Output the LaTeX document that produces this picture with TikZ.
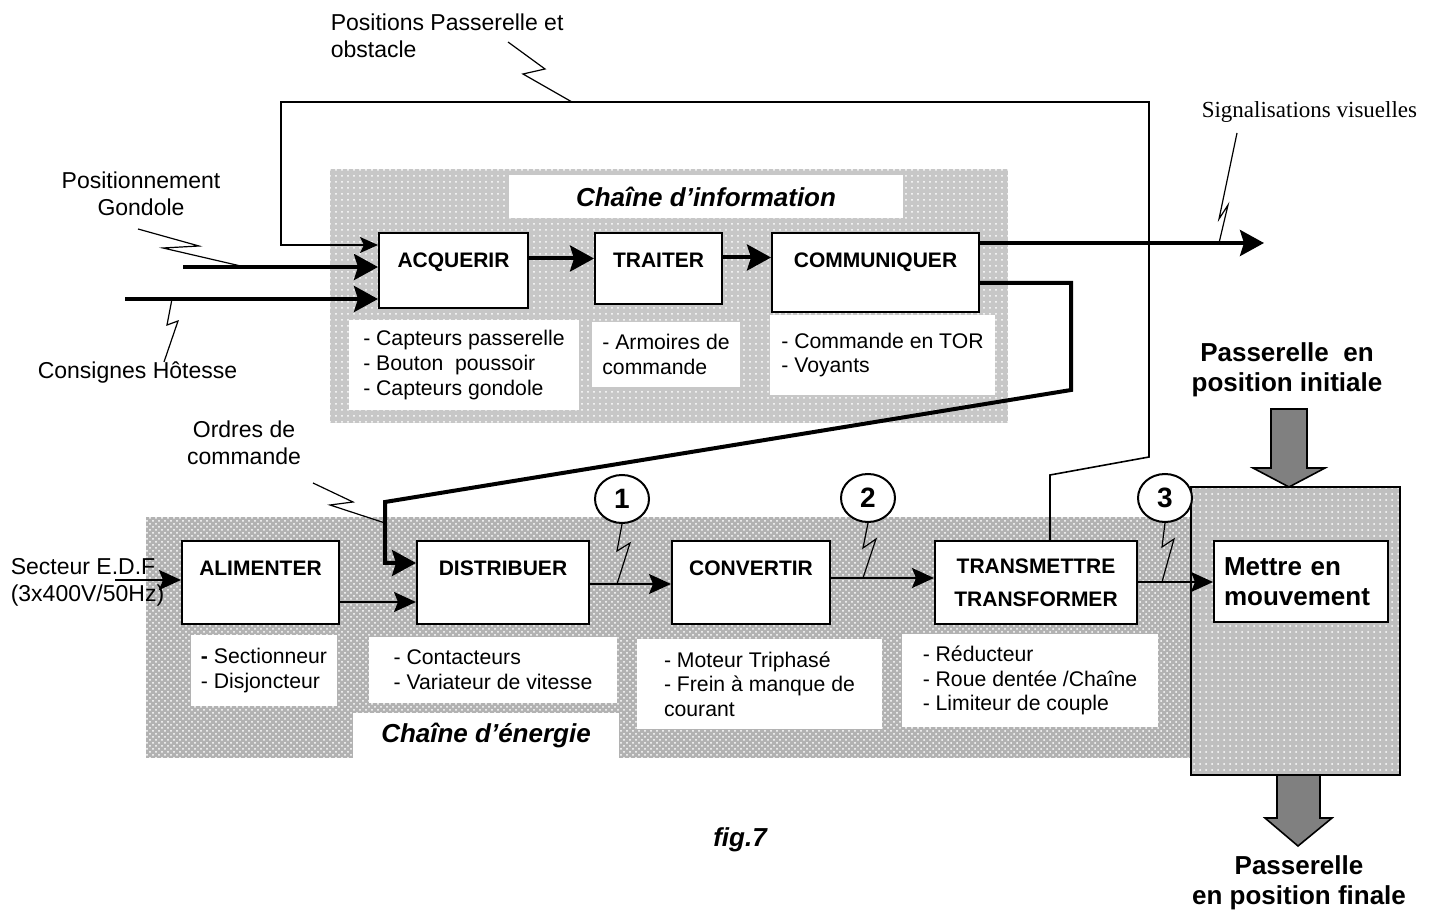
\documentclass[tikz,border=0pt]{standalone}
\usepackage{fontspec}
\setmainfont{Liberation Sans}
\newfontfamily\timesfont{Liberation Serif}
\usetikzlibrary{arrows.meta,shapes.geometric,patterns}

\begin{document}
\begin{tikzpicture}[x=0.5pt, y=-0.5pt, thick, every node/.style={inner sep=0pt}]

\tikzstyle{block} = [rectangle, draw, line width=1pt, fill=white, text height=7.5pt,
    font=\bfseries\fontsize{10.5}{12.6}\selectfont, minimum height=41.5pt, text depth=14.5pt]
\tikzstyle{desc} = [rectangle, fill=white, align=left, font=\fontsize{10.6}{12.3}\selectfont]
\tikzstyle{lbl} = [align=center, font=\fontsize{11.5}{13.5}\selectfont]
\tikzstyle{title} = [rectangle, fill=white, font=\bfseries\itshape\fontsize{13}{15}\selectfont]
\tikzstyle{num} = [ellipse, draw, line width=1pt, fill=white, minimum width=27pt,
    minimum height=24pt, font=\bfseries\fontsize{14}{14}\selectfont]
\tikzstyle{line} = [draw, line width=1pt, -{Stealth[length=11pt,width=10pt,inset=2pt]}]
\tikzstyle{fat} = [draw, line width=2pt, -{Stealth[length=12pt,width=13pt,inset=2pt]}]
\tikzstyle{wire} = [draw, line width=0.8pt]
\tikzstyle{zig} = [draw, line width=0.6pt]
\tikzstyle{infozone} = [preaction={fill=black!22}, pattern=dots, pattern color=white]
\tikzstyle{nrjzone} = [preaction={fill=black!30}, pattern=crosshatch dots, pattern color=white]
\tikzstyle{mvtzone} = [rectangle, draw, line width=1pt, preaction={fill=black!25}, pattern=dots, pattern color=white]
\tikzstyle{bigarrow} = [draw, line width=0.8pt, fill=black!50]

    \useasboundingbox (0,0) rectangle (1441,914);

    % Zones
    \path [infozone] (330,169) rectangle (1008,423);
    \path [nrjzone] (146,517) rectangle (1191,758);
    \node [mvtzone, minimum width=104.5pt, minimum height=144pt] (zone) at (1295.5,631) {};

    % Chaine d'information
    \node [title, minimum width=197pt, minimum height=21.5pt] (tinfo) at (706,196.5) {Chaîne d’information};
    \node [block, minimum width=74.5pt, minimum height=37.5pt, text depth=10pt] (acq) at (453.5,270.5) {ACQUERIR};
    \node [block, minimum width=63.5pt, minimum height=35.5pt, text depth=8pt] (trait) at (658.5,268.5) {TRAITER};
    \node [block, minimum width=103.5pt, minimum height=39.5pt, text depth=12pt] (comm) at (875.5,272.5) {COMMUNIQUER};
    \node [desc, minimum width=115pt, minimum height=45pt] (dacq) at (464,365)
        {- Capteurs passerelle\\- Bouton\ \ poussoir\\- Capteurs gondole};
    \node [desc, minimum width=74pt, minimum height=32.5pt] (dtrait) at (666,354.5)
        {- Armoires de\\commande};
    \node [desc, minimum width=112.5pt, minimum height=40pt] (dcomm) at (882.5,355)
        {- Commande en TOR\\- Voyants};

    % Chaine d'energie
    \node [title, minimum width=133pt, minimum height=22.5pt] (tnrj) at (486,735.5) {Chaîne d’énergie};
    \node [block, minimum width=78.5pt] (alim) at (260.5,582.5) {ALIMENTER};
    \node [block, minimum width=86pt] (dist) at (503,582.5) {DISTRIBUER};
    \node [block, minimum width=79pt] (conv) at (751,582.5) {CONVERTIR};
    \node [block, minimum width=101pt, text height=, text depth=, align=center] (trans) at (1036,582.5)
        {TRANSMETTRE\\[4pt]TRANSFORMER};
    \node [desc, minimum width=73pt, minimum height=35.5pt] (dalim) at (264,670.5)
        {\textbf{-} Sectionneur\\- Disjoncteur};
    \node [desc, minimum width=124pt, minimum height=33pt] (ddist) at (493,670)
        {- Contacteurs\\- Variateur de vitesse};
    \node [desc, minimum width=122.5pt, minimum height=45pt] (dconv) at (759.5,684)
        {- Moteur Triphasé\\- Frein à manque de\\courant};
    \node [desc, minimum width=128pt, minimum height=46.5pt] (dtrans) at (1030,680.5)
        {- Réducteur\\- Roue dentée /Chaîne\\- Limiteur de couple};
    \node [block, minimum width=87pt, minimum height=40.5pt, text height=, text depth=, align=left, inner xsep=5pt,
        text width=77pt, font=\bfseries\fontsize{13}{15}\selectfont] (mvt) at (1301,581.5) {Mettre en\\mouvement};

    \node [num] (n1) at (622,499) {1};
    \node [num] (n2) at (868,498) {2};
    \node [num] (n3) at (1165,498) {3};

    % Labels
    \node [lbl, align=left, anchor=west] (posit) at (330,36) {Positions Passerelle et\\obstacle};
    \node [lbl] (gondole) at (141,194) {Positionnement\\Gondole};
    \node [lbl] (hotesse) at (137.5,373) {Consignes Hôtesse};
    \node [lbl] (ordres) at (244,443) {Ordres de\\commande};
    \node [lbl, align=left, anchor=west] (secteur) at (10,582) {Secteur E.D.F\\(3x400V/50Hz)};
    \node [anchor=west, font=\timesfont\fontsize{11.5}{13}\selectfont] (signal) at (1201,112) {Signalisations visuelles};
    \node [align=center, font=\bfseries\fontsize{13}{15}\selectfont] (pinit) at (1287,370) {Passerelle\ \ en\\position initiale};
    \node [align=center, font=\bfseries\fontsize{13}{15}\selectfont] (pfin) at (1299,883) {Passerelle\\en position finale};
    \node [font=\bfseries\itshape\fontsize{13}{15}\selectfont] (fig) at (740,840) {fig.7};

    % Big arrows
    \draw [bigarrow] (1289,487) -- ++(36,-19) -- ++(-18,0) -- ++(0,-59) -- ++(-36,0) -- ++(0,59) -- ++(-18,0) -- cycle;
    \draw [bigarrow] (1298,846) -- ++(34,-28) -- ++(-12,0) -- ++(0,-43) -- ++(-43,0) -- ++(0,43) -- ++(-12,0) -- cycle;

    \coordinate (gond) at (183,267);
    \coordinate (host) at (125,299);
    \coordinate (sigout) at (1264,243);
    \coordinate (edf) at (115,580);

    % Draw edges
    \path [fat] (gond) -- (acq.west |- gond);
    \path [fat] (host) -- (acq.west |- host);
    \path [fat] ([yshift=6pt]acq.east) -- ([yshift=6pt]acq.east -| trait.west);
    \path [fat] ([yshift=5.5pt]trait.east) -- ([yshift=5.5pt]trait.east -| comm.west);
    \path [fat] ([yshift=14.75pt]comm.east) -- (sigout);
    \path [fat] ([yshift=-5.25pt]comm.east) -- (1071,283) -- (1071,390) -- (385,502) -- (385,563) -- (dist.west |- 385,563);
    \path [wire, -{Stealth[length=9pt,width=8pt,inset=2pt]}] ([xshift=7pt]trans.north) -- (1050,475) -- (1149,457)
        -- (1149,102) -- (281,102) -- (281,245) -- (acq.west |- 281,245);
    \path [line] (edf) -- (alim.west |- edf);
    \path [line] (alim.east |- 0,602) -- (dist.west |- 0,602);
    \path [line] (dist.east |- 0,584) -- (conv.west |- 0,584);
    \path [line] (conv.east |- 0,578) -- (trans.west |- 0,578);
    \path [line] (trans.east |- 0,582) -- (mvt.west |- 0,582);

    % Zigzags
    \path [zig] (508,42) -- (545,69) -- (523,74) -- (572,102);
    \path [zig] (138,229) -- (199,246) -- (163,248) -- (245,267);
    \path [zig] (164,362) -- (178,321) -- (167,325) -- (172,299);
    \path [zig] (313,483) -- (353,502) -- (330,505) -- (385,523);
    \path [zig] (1237,133) -- (1219,219) -- (1228,205) -- (1219,243);
    \path [zig] (n1.south) -- (617,551) -- (630,543) -- (617,584);
    \path [zig] (n2.south) -- (863,548) -- (876,539) -- (863,578);
    \path [zig] (n3.south) -- (1162,547) -- (1174,539) -- (1162,582);
\end{tikzpicture}
\end{document}
